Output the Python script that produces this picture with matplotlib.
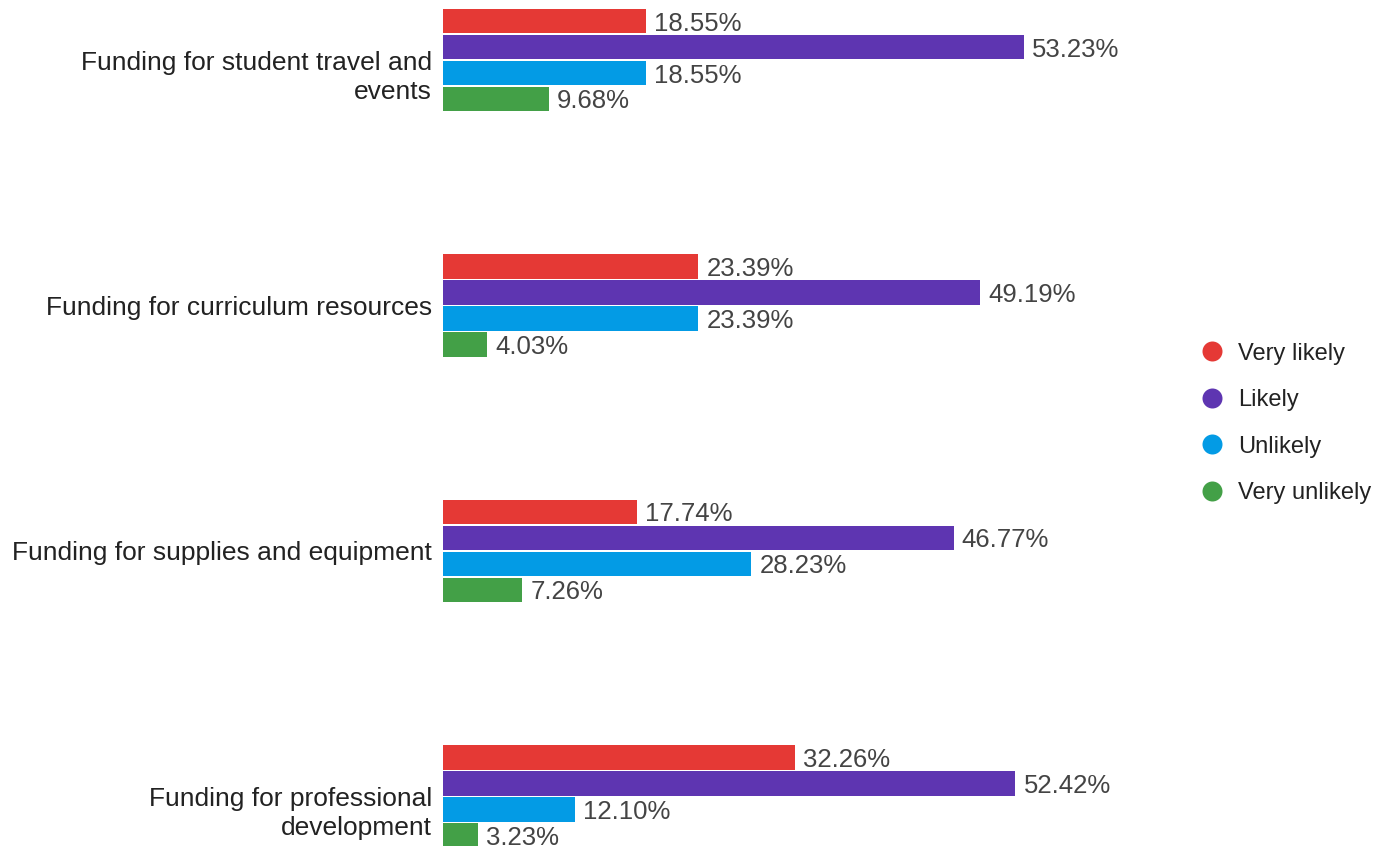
import matplotlib
matplotlib.use("Agg")
import matplotlib.pyplot as plt
from matplotlib.lines import Line2D

plt.rcParams['font.family'] = ['Liberation Sans', 'DejaVu Sans']

# Survey results (percent of respondents)
categories = [
    "Funding for student travel and\nevents",
    "Funding for curriculum resources",
    "Funding for supplies and equipment",
    "Funding for professional\ndevelopment",
]
series_names = ["Very likely", "Likely", "Unlikely", "Very unlikely"]
very_likely = [18.55, 23.39, 17.74, 32.26]
likely = [53.23, 49.19, 46.77, 52.42]
unlikely = [18.55, 23.39, 28.23, 12.10]
very_unlikely = [9.68, 4.03, 7.26, 3.23]
series_values = [very_likely, likely, unlikely, very_unlikely]
colors = ["#E53935", "#5E35B1", "#039BE5", "#43A047"]

W, H = 1394, 846
fig = plt.figure(figsize=(W / 100, H / 100), dpi=100)
ax = fig.add_axes([443 / W, 0, (1150 - 443) / W, 1])

pitch = 0.1059
bar_h = 0.0998
for j, (vals, col) in enumerate(zip(series_values, colors)):
    ys = [i + (j - 1.5) * pitch for i in range(len(categories))]
    ax.barh(ys, vals, height=bar_h, color=col, edgecolor='none')
    for y, v in zip(ys, vals):
        ax.annotate(f"{v:.2f}%", xy=(v, y), xytext=(8, 0),
                    textcoords='offset pixels', ha='left',
                    va='center_baseline', fontsize=18.5, color='#444444',
                    annotation_clip=False)

# Category labels: first line aligned with the group centre, extra lines below
for i, lab in enumerate(categories):
    for k, line in enumerate(lab.split("\n")):
        ax.annotate(line, xy=(0, i), xycoords=('axes fraction', 'data'),
                    xytext=(-11, -29 * k), textcoords='offset pixels',
                    ha='right', va='center_baseline', fontsize=19,
                    color='#222222', annotation_clip=False)

ax.set_xlim(0, 64.74)
ax.set_ylim(3.2025, -0.2445)
ax.axis('off')

handles = [Line2D([], [], marker='o', ls='', color=c, markersize=14.4,
                  markeredgewidth=0) for c in colors]
fig.legend(handles, series_names, loc='center left',
           bbox_to_anchor=(1200.2 / W, 0.4996), bbox_transform=fig.transFigure,
           frameon=False, fontsize=17, handlelength=1.0, handletextpad=0.62,
           labelspacing=1.04, borderpad=0, borderaxespad=0,
           labelcolor='#222222')

fig.savefig("out.png", dpi=100)
